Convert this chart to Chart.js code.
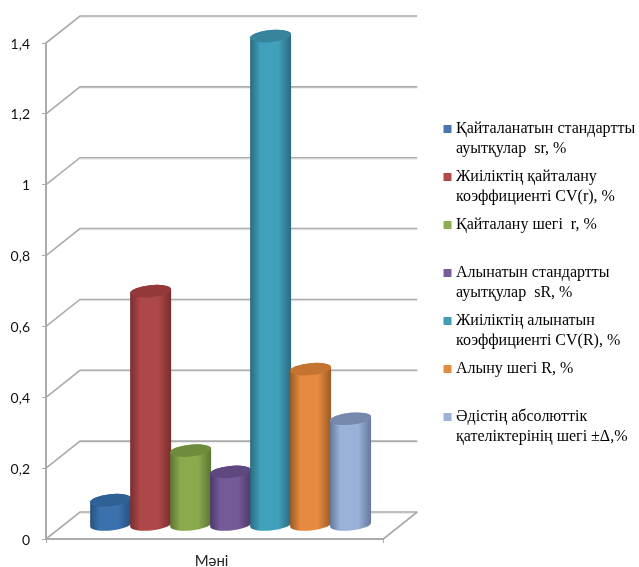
<!DOCTYPE html>
<html lang="kk">
<head>
<meta charset="UTF-8">
<title>Мәні</title>
<script src="https://cdn.jsdelivr.net/npm/chart.js@4"></script>
<style>
  html, body { margin: 0; background: #fff; }
  canvas { display: block; }
</style>
</head>
<body>
<canvas id="chart" width="639" height="567"></canvas>
<script>
const categories = ['Мәні'];
const yTicks = { min: 0, max: 1.4, step: 0.2 };

// each legend entry keeps two lines so the rows stay evenly spaced
const seriesLabels = [
  ['Қайталанатын стандартты', 'ауытқулар  sr, %'],
  ['Жиіліктің қайталану', 'коэффициенті CV(r), %'],
  ['Қайталану шегі  r, %', ''],
  ['Алынатын стандартты', 'ауытқулар  sR, %'],
  ['Жиіліктің алынатын', 'коэффициенті CV(R), %'],
  ['Алыну шегі R, %', ''],
  ['Әдістің абсолюттік', 'қателіктерінің шегі ±Δ,%']
];
const seriesValues = [0.07, 0.66, 0.21, 0.15, 1.38, 0.44, 0.30];

const swatches = ['#4674ab', '#b34a47', '#90ac50', '#7a5c9a', '#3f9eb8', '#e58a41', '#9cb2d9'];
const bodyLight = ['#3b72ae', '#ae4848', '#8aaa4e', '#755a98', '#41a0bc', '#e58a3f', '#9ab2da'];
const bodyDark = ['#25517f', '#772e2e', '#5c7433', '#4d3767', '#2a6a7f', '#9a5a25', '#66789b'];
const capColor = ['#2f6196', '#94393a', '#6f8c3c', '#5f4780', '#37849c', '#c47430', '#7688ab'];

// depth of the box behind the front plane, and where the bars stand in it
const wallDx = 34, wallDy = 27;
const barDx = 16, barDy = 14;
const capRy = 6, capTilt = -0.1;
const axisColor = '#ababab';

function drawWalls(chart) {
  const { ctx, scales: { x, y } } = chart;
  const left = x.left, right = x.right, front = y.getPixelForValue(0);
  const line = (pts, color, width) => {
    ctx.strokeStyle = color;
    ctx.lineWidth = width;
    ctx.beginPath();
    pts.forEach((p, i) => i ? ctx.lineTo(p[0], p[1]) : ctx.moveTo(p[0], p[1]));
    ctx.stroke();
  };
  ctx.save();
  y.ticks.forEach(t => {
    const py = y.getPixelForValue(t.value);
    line([[left + wallDx, py - wallDy + 1.5], [right + wallDx, py - wallDy + 1.5]], '#ececec', 1);
    line([[left, py], [left + wallDx, py - wallDy], [right + wallDx, py - wallDy]], axisColor, 1.6);
  });
  // right edge of the floor
  line([[right + wallDx, front - wallDy], [right, front]], axisColor, 1.6);
  ctx.restore();
}

function drawCylinder(ctx, bar, i) {
  const { x, y, base, width } = bar.getProps(['x', 'y', 'base', 'width']);
  const cx = x + barDx, topY = y - barDy, baseY = base - barDy;
  const rx = width / 2 + 0.6;
  const g = ctx.createLinearGradient(cx - rx, 0, cx + rx, 0);
  g.addColorStop(0, bodyDark[i]);
  g.addColorStop(0.25, bodyLight[i]);
  g.addColorStop(0.68, bodyLight[i]);
  g.addColorStop(1, bodyDark[i]);
  ctx.save();
  ctx.fillStyle = g;
  ctx.beginPath();
  ctx.ellipse(cx, baseY, rx, capRy, capTilt, 0, Math.PI);
  ctx.ellipse(cx, topY, rx, capRy, capTilt, Math.PI, 0);
  ctx.closePath();
  ctx.fill();
  ctx.fillStyle = capColor[i];
  ctx.beginPath();
  ctx.ellipse(cx, topY, rx, capRy, capTilt, 0, Math.PI * 2);
  ctx.fill();
  ctx.restore();
}

const cylinders = {
  id: 'cylinders',
  beforeDatasetsDraw: drawWalls,
  // default flat bars are skipped, the cylinders go on in series order below
  beforeDatasetDraw: () => false,
  afterDatasetsDraw(chart) {
    chart.data.datasets.forEach((ds, i) => {
      drawCylinder(chart.ctx, chart.getDatasetMeta(i).data[0], i);
    });
  },
  // the legend sits in its own column well clear of the plot
  afterLayout(chart) {
    const legend = chart.legend;
    legend.left = 439;
    legend.right = 639;
    legend.top = 113;
    legend.bottom = 567;
  }
};

new Chart(document.getElementById('chart'), {
  type: 'bar',
  data: {
    labels: categories,
    datasets: seriesValues.map((v, i) => ({
      label: seriesLabels[i],
      data: [v],
      backgroundColor: swatches[i],
      categoryPercentage: 0.83,
      barPercentage: 1
    }))
  },
  plugins: [cylinders],
  options: {
    responsive: false,
    animation: false,
    layout: { padding: { top: 43, right: 128, bottom: 0, left: 0 } },
    plugins: {
      tooltip: { enabled: false },
      legend: {
        position: 'right',
        align: 'start',
        labels: {
          color: '#1a1a1a',
          font: { family: '"Liberation Serif"', size: 16, lineHeight: '20px' },
          boxWidth: 1,
          boxHeight: 1,
          padding: 8,
          generateLabels: chart => chart.data.datasets.map((ds, i) => ({
            text: ds.label,
            fillStyle: swatches[i],
            strokeStyle: swatches[i],
            lineWidth: 7,
            datasetIndex: i
          }))
        }
      }
    },
    scales: {
      x: {
        afterFit: s => { s.height = 28; },
        border: { color: axisColor, width: 2 },
        grid: { drawOnChartArea: false, drawTicks: true, tickLength: 4, color: axisColor },
        ticks: { color: '#222', font: { family: 'Lato', size: 15 }, padding: 9, labelOffset: -3 }
      },
      y: {
        min: yTicks.min,
        max: yTicks.max,
        afterFit: s => { s.width = 46; },
        border: { color: axisColor, width: 2 },
        grid: { drawOnChartArea: false, drawTicks: true, tickLength: 4, color: axisColor },
        ticks: {
          stepSize: yTicks.step,
          color: '#111',
          padding: 12,
          labelOffset: 1,
          font: { family: 'Lato', size: 14 },
          callback: v => String(Math.round(v * 10) / 10).replace('.', ',')
        }
      }
    }
  }
});
</script>
</body>
</html>
